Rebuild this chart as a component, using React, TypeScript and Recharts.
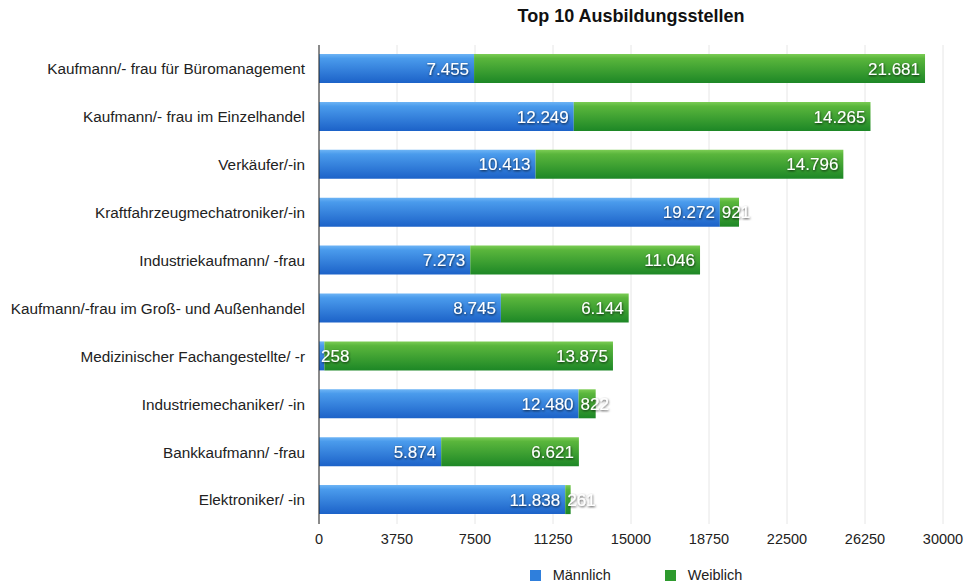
import { BarChart, Bar, XAxis, YAxis, CartesianGrid, Legend } from 'recharts';

document.body.style.margin = '0';

const berufe = [
  'Kaufmann/- frau für Büromanagement',
  'Kaufmann/- frau im Einzelhandel',
  'Verkäufer/-in',
  'Kraftfahrzeugmechatroniker/-in',
  'Industriekaufmann/ -frau',
  'Kaufmann/-frau im Groß- und Außenhandel',
  'Medizinischer Fachangestellte/ -r',
  'Industriemechaniker/ -in',
  'Bankkaufmann/ -frau',
  'Elektroniker/ -in',
];
const maennlich = [7455, 12249, 10413, 19272, 7273, 8745, 258, 12480, 5874, 11838];
const weiblich = [21681, 14265, 14796, 921, 11046, 6144, 13875, 822, 6621, 261];
const xTicks = [0, 3750, 7500, 11250, 15000, 18750, 22500, 26250, 30000];

const data = berufe.map((beruf, i) => ({
  beruf,
  maennlich: maennlich[i],
  weiblich: weiblich[i],
}));

const FONT = '"Liberation Sans", Arial, Helvetica, sans-serif';
const LABEL_SIZE = 17;

function fmt(v: number) {
  return String(v).replace(/\B(?=(\d{3})+(?!\d))/g, '.');
}

function textWidth(s: string) {
  let w = 0;
  for (const c of s) w += (c === '.' ? 0.278 : 0.556) * LABEL_SIZE;
  return w;
}

// stacked bars hand the cumulative value to the label, so read the segment value from its own array
const makeLabel = (values: number[]) => (props: any) => {
  const { x, y, width, height, index } = props;
  const s = fmt(values[index]);
  const tw = textWidth(s);
  const fits = width >= tw + 8;
  return (
    <text
      x={fits ? x + width - 5 : x + 2}
      y={y + height / 2}
      dy="0.36em"
      textAnchor={fits ? 'end' : 'start'}
      fill="#fff"
      fontSize={LABEL_SIZE}
      fontFamily={FONT}
      filter="url(#txtShadow)"
    >
      {s}
    </text>
  );
};

function LegendBox() {
  const item = (color: string, label: string) => (
    <div style={{ display: 'flex', alignItems: 'center', margin: '0 27px' }}>
      <span style={{ width: 11, height: 11, background: color, display: 'inline-block', marginRight: 12 }} />
      <span>{label}</span>
    </div>
  );
  return (
    <div
      style={{
        height: 31,
        display: 'flex',
        justifyContent: 'center',
        alignItems: 'flex-end',
        fontFamily: FONT,
        fontSize: 14.5,
        color: '#222',
        marginLeft: 353,
        marginRight: 24,
      }}
    >
      <div style={{ display: 'flex', marginBottom: 2 }}>
        {item('#2f7fdc', 'Männlich')}
        {item('#2e9a2e', 'Weiblich')}
      </div>
    </div>
  );
}

export default function App() {
  return (
    <div style={{ position: 'relative', width: 967, height: 585, background: '#fff' }}>
      <div
        style={{
          position: 'absolute',
          top: 6,
          left: 319,
          width: 624,
          textAlign: 'center',
          fontFamily: FONT,
          fontWeight: 'bold',
          fontSize: 18,
          color: '#111',
        }}
      >
        Top 10 Ausbildungsstellen
      </div>
      <BarChart
        width={967}
        height={585}
        data={data}
        layout="vertical"
        margin={{ top: 45, right: 24, left: 0, bottom: 0 }}
        barSize={29}
      >
        <defs>
          <linearGradient id="gradBlue" x1="0" y1="0" x2="0" y2="1">
            <stop offset="0%" stopColor="#6db4f5" />
            <stop offset="15%" stopColor="#4a9bec" />
            <stop offset="100%" stopColor="#1c62c8" />
          </linearGradient>
          <linearGradient id="gradGreen" x1="0" y1="0" x2="0" y2="1">
            <stop offset="0%" stopColor="#7ccd55" />
            <stop offset="15%" stopColor="#5ab63c" />
            <stop offset="100%" stopColor="#1d8726" />
          </linearGradient>
          <filter id="txtShadow" x="-20%" y="-20%" width="140%" height="140%">
            <feDropShadow dx="0.5" dy="1" stdDeviation="0.8" floodColor="#000" floodOpacity="0.75" />
          </filter>
        </defs>
        <CartesianGrid horizontal={false} stroke="#e6e6e6" />
        <XAxis
          type="number"
          domain={[0, 30000]}
          ticks={xTicks}
          interval={0}
          axisLine={false}
          tickLine={false}
          tickSize={8}
          tickMargin={2}
          height={30}
          tick={{ fill: '#222', fontSize: 14.5, fontFamily: FONT }}
        />
        <YAxis
          type="category"
          dataKey="beruf"
          width={319}
          axisLine={{ stroke: '#222' }}
          tickLine={false}
          tickSize={12}
          tickMargin={2}
          interval={0}
          tick={{ fill: '#222', fontSize: 15.3, fontFamily: FONT }}
        />
        <Legend verticalAlign="bottom" height={31} content={() => <LegendBox />} />
        <Bar dataKey="maennlich" name="Männlich" stackId="a" fill="url(#gradBlue)" isAnimationActive={false} label={makeLabel(maennlich)} />
        <Bar dataKey="weiblich" name="Weiblich" stackId="a" fill="url(#gradGreen)" isAnimationActive={false} label={makeLabel(weiblich)} />
      </BarChart>
    </div>
  );
}
